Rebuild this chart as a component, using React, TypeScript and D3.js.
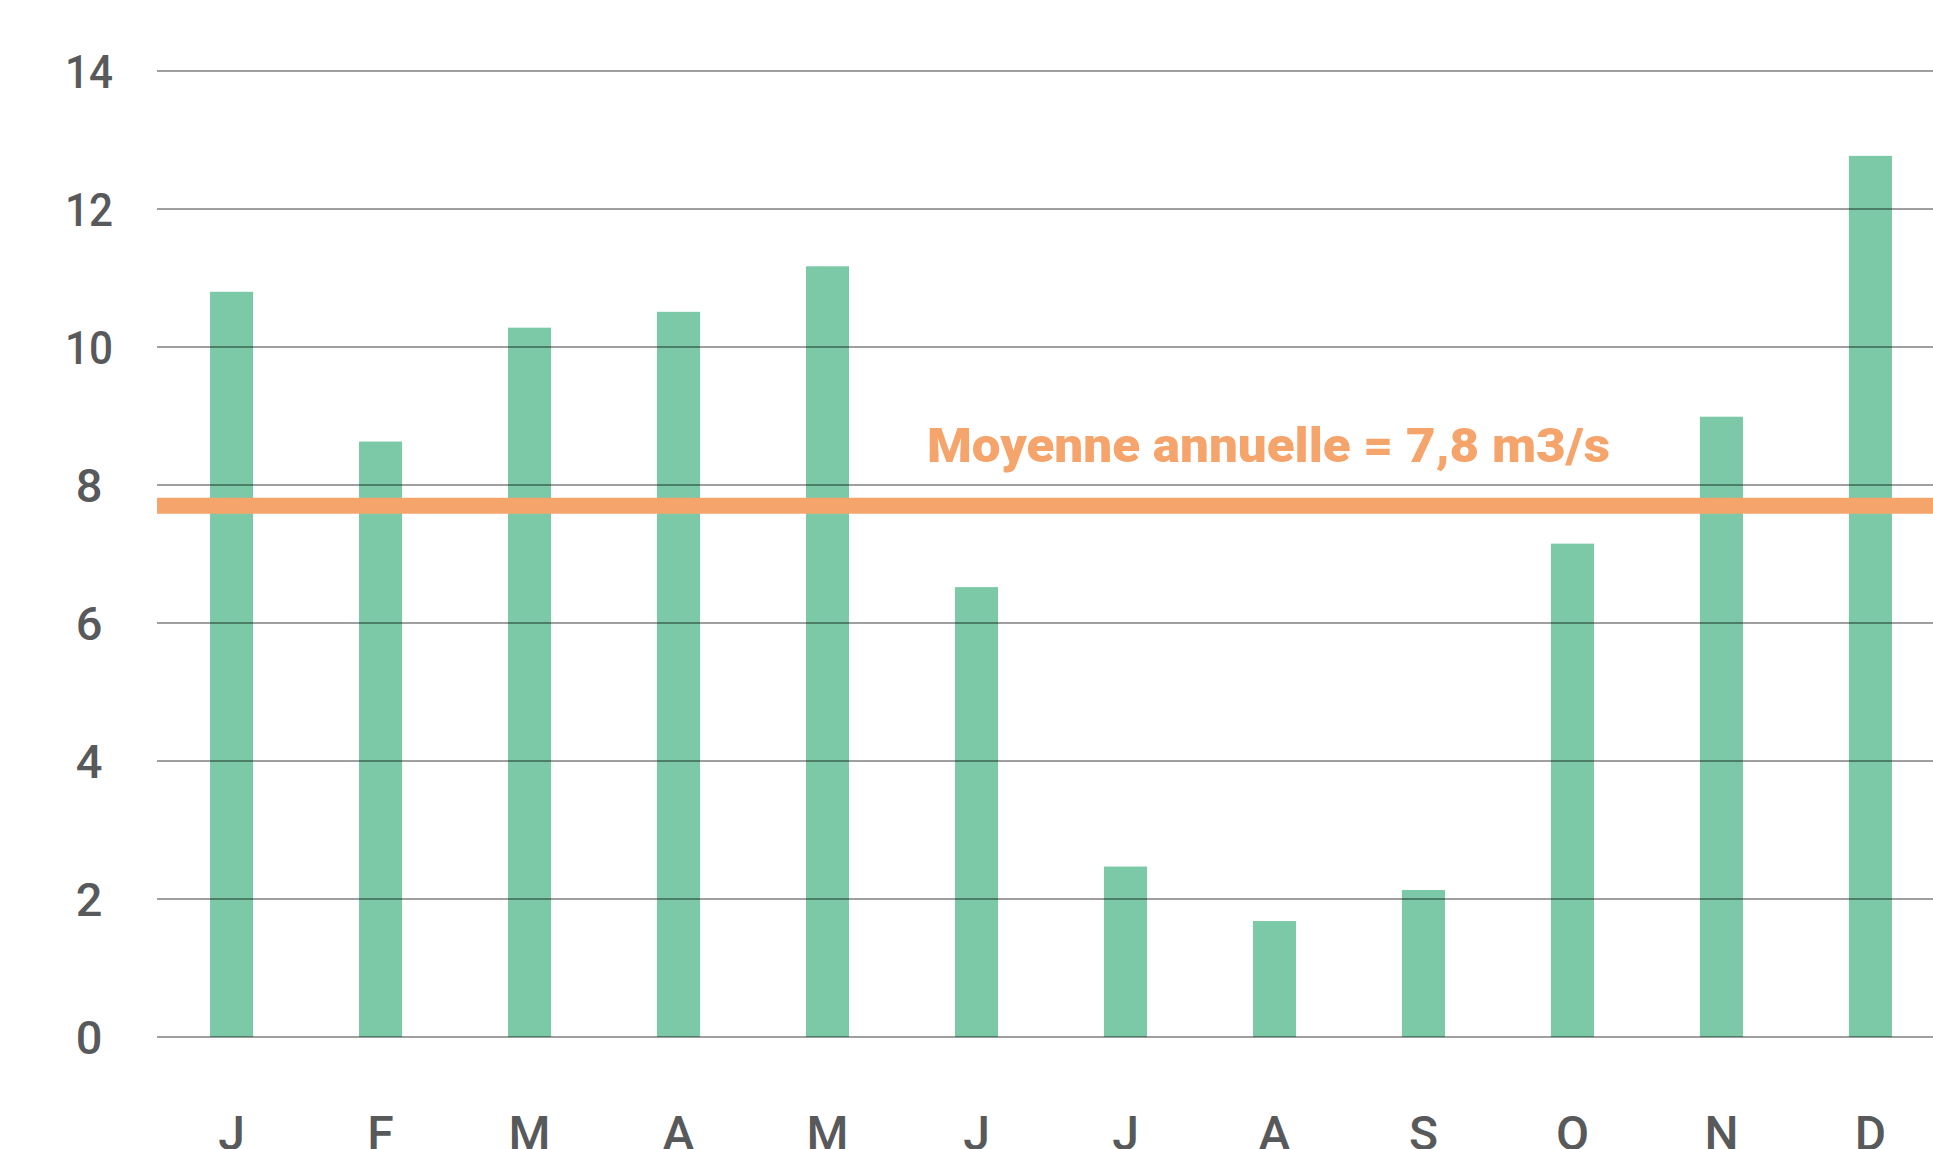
import { useEffect, useRef } from "react";
import * as d3 from "d3";

const months = ["J", "F", "M", "A", "M", "J", "J", "A", "S", "O", "N", "D"];
const flows = [10.8, 8.63, 10.28, 10.51, 11.17, 6.52, 2.47, 1.68, 2.13, 7.15, 8.99, 12.77];
const yTicks = [0, 2, 4, 6, 8, 10, 12, 14];
const meanValue = 7.7;
const meanLabel = "Moyenne annuelle = 7,8 m3/s";

const WIDTH = 1933;
const HEIGHT = 1149;

const App = () => {
    const svgRef = useRef<SVGSVGElement>(null);

    useEffect(() => {
        if (!svgRef.current) return;
        const svg = d3.select(svgRef.current);
        svg.selectAll("*").remove();

        // plot area
        const left = 157;
        const right = WIDTH;
        const top = 71;
        const bottom = 1037;

        const x = d3.scaleBand<number>()
            .domain(d3.range(months.length))
            .range([left, 1945])
            .paddingInner(0.711)
            .paddingOuter(0.356);

        const y = d3.scaleLinear().domain([0, 14]).range([bottom, top]);

        const textColor = "#58595b";

        // bars
        svg.append("g")
            .selectAll("rect")
            .data(flows)
            .enter()
            .append("rect")
            .attr("x", (_, i) => x(i)!)
            .attr("y", (d) => y(d))
            .attr("width", x.bandwidth())
            .attr("height", (d) => y(0) - y(d))
            .attr("fill", "#7bc9a6");

        // grid lines (over the bars)
        svg.append("g")
            .selectAll("line")
            .data(yTicks)
            .enter()
            .append("line")
            .attr("x1", left)
            .attr("x2", right)
            .attr("y1", (d) => y(d))
            .attr("y2", (d) => y(d))
            .attr("stroke", "#000")
            .attr("stroke-opacity", 0.5)
            .attr("stroke-width", 1.5);

        // y labels (two-digit ones are a bit condensed in the original)
        const yLabels = svg.append("g")
            .selectAll("text")
            .data(yTicks)
            .enter()
            .append("text")
            .attr("x", 89)
            .attr("y", (d) => y(d))
            .attr("text-anchor", "middle")
            .attr("dominant-baseline", "central")
            .attr("fill", textColor)
            .attr("font-family", "Roboto, sans-serif")
            .attr("font-weight", 500)
            .attr("font-size", "47px")
            .text((d) => d);
        yLabels.filter((d) => d >= 10)
            .attr("textLength", 48)
            .attr("lengthAdjust", "spacingAndGlyphs");

        // month labels (cut by the bottom edge, as in the original)
        svg.append("g")
            .selectAll("text")
            .data(months)
            .enter()
            .append("text")
            .attr("x", (_, i) => x(i)! + x.bandwidth() / 2)
            .attr("y", 1150)
            .attr("text-anchor", "middle")
            .attr("fill", textColor)
            .attr("font-family", "Roboto, sans-serif")
            .attr("font-weight", 500)
            .attr("font-size", "48px")
            .text((d) => d);

        // annual mean line
        svg.append("line")
            .attr("x1", left)
            .attr("x2", right)
            .attr("y1", y(meanValue))
            .attr("y2", y(meanValue))
            .attr("stroke", "#f5a46b")
            .attr("stroke-width", 16);

        svg.append("text")
            .attr("x", 927)
            .attr("y", 462)
            .attr("fill", "#f5a46b")
            .attr("font-family", "Roboto, sans-serif")
            .attr("font-weight", 900)
            .attr("font-size", "49px")
            .attr("textLength", 683)
            .attr("lengthAdjust", "spacingAndGlyphs")
            .text(meanLabel);
    }, []);

    return (
        <svg
            ref={svgRef}
            width={WIDTH}
            height={HEIGHT}
            style={{ position: "absolute", left: 0, top: 0, background: "#fff", display: "block" }}
        />
    );
};

export default App;
